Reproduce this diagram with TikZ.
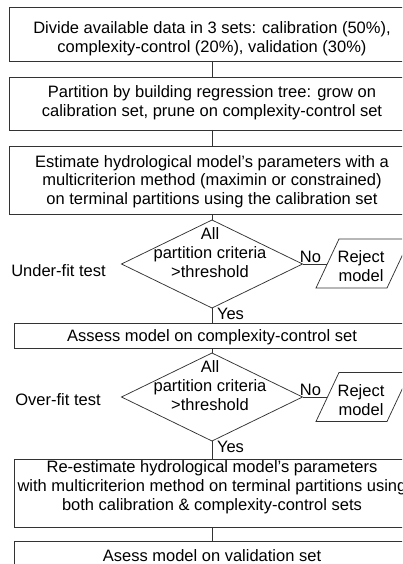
\documentclass[tikz,border=0pt]{standalone}
\usepackage{fontspec}
\setmainfont{Liberation Sans}
\usetikzlibrary{shapes.geometric}
\begin{document}
\begin{tikzpicture}[x=1pt,y=-1pt,
  every node/.style={font=\fontsize{16.5}{18.8}\selectfont, inner sep=0pt, outer sep=0pt},
  box/.style={draw=black!80, line width=0.75pt},
  dec/.style={draw=black!80, diamond, line width=0.75pt, minimum width=181pt, minimum height=88pt},
  link/.style={draw=black!80, line width=0.75pt},
  para/.style={draw=black!80, line width=0.75pt},
  lbl/.style={align=center}]
\useasboundingbox (0,0) rectangle (402,564);
\clip (0,0) rectangle (402,564);
% boxes
\node[box, minimum width=405pt, minimum height=53.5pt] (b1) at (212,34.25) {};
\node[lbl] (b1t) at (212,38.4)
  {Divide available data in 3 sets: calibration (50\%),\\complexity-control (20\%), validation (30\%)};
\node[box, minimum width=405pt, minimum height=53pt] (b2) at (212,103.5) {};
\node[lbl] (b2t) at (212,103.1)
  {Partition by building regression tree: grow on\\calibration set, prune on complexity-control set};
\node[box, minimum width=405pt, minimum height=68pt] (b3) at (212,180) {};
\node[lbl] (b3t) at (212,181.6)
  {Estimate hydrological model’s parameters with a\\multicriterion method (maximin or constrained)\\on terminal partitions using the calibration set};
\node[dec] (d1) at (212,264) {};
\node[lbl] (d1t) at (210,252.5) {All\\partition criteria\\>threshold};
\node[box, minimum width=396pt, minimum height=25pt] (b4) at (212,335.5) {};
\node (b4t) at (212,337.3) {Assess model on complexity-control set};
\node[dec] (d2) at (212,397) {};
\node[lbl] (d2t) at (210,385.5) {All\\partition criteria\\>threshold};
\node[box, minimum width=396pt, minimum height=68pt] (b5) at (212,493) {};
\node[lbl] (b5t) at (212,487.5)
  {Re-estimate hydrological model’s parameters\\with multicriterion method on terminal partitions using\\both calibration \& complexity-control sets};
\node[box, minimum width=396pt, minimum height=34pt] (b6) at (212,558) {};
\node (b6t) at (212,556) {Asess model on validation set};
% test labels
\node (u1) at (58.5,271) {Under-fit test};
\node (o1) at (58,400) {Over-fit test};
% reject parallelograms
\draw[para] (316,288) -- (339,239) -- (410,239) -- (387,288) -- cycle;
\node[lbl] (r1) at (361,266.5) {Reject\\model};
\coordinate (r1in) at (327.3,264);
\draw[para] (316,421.5) -- (339,372.5) -- (410,372.5) -- (387,421.5) -- cycle;
\node[lbl] (r2) at (361,400) {Reject\\model};
\coordinate (r2in) at (327.3,397);
% connectors
\draw[link] (b1) -- (b2);
\draw[link] (b2) -- (b3);
\draw[link] (b3) -- (d1.north);
\draw[link] (d1.south) -- (b4);
\draw[link] (b4) -- (d2.north);
\draw[link] (d2.south) -- (b5);
\draw[link] (b5) -- (b6);
\draw[link] (d1.east) -- (r1in);
\draw[link] (d2.east) -- (r2in);
% yes/no labels
\node[anchor=base] (n1) at (310.5,262) {No};
\node[anchor=base] (y1) at (230.5,319) {Yes};
\node[anchor=base] (n2) at (310.5,395.5) {No};
\node[anchor=base] (y2) at (230.5,452.5) {Yes};
\end{tikzpicture}
\end{document}
